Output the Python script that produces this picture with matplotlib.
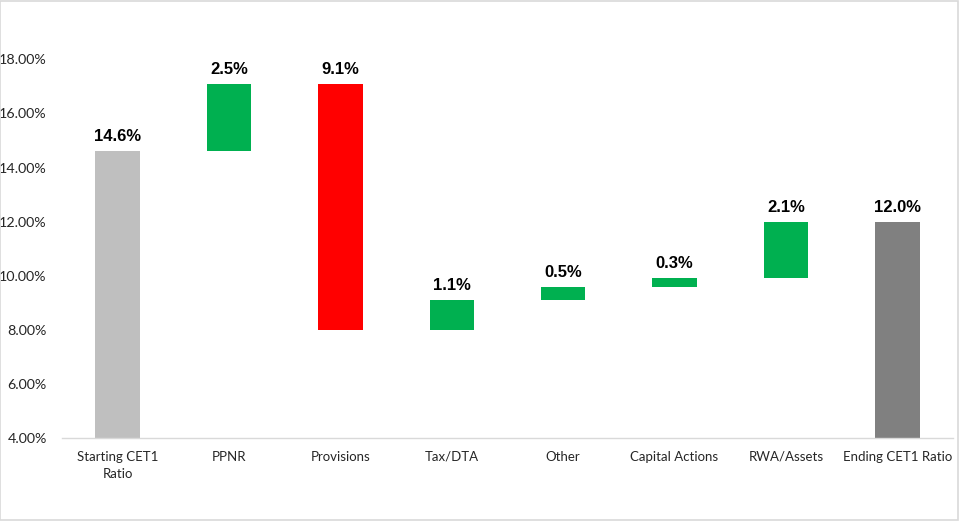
import matplotlib
matplotlib.use("Agg")
import matplotlib.pyplot as plt
from matplotlib.patches import Rectangle
from matplotlib.ticker import FuncFormatter

categories = ["Starting CET1\nRatio", "PPNR", "Provisions", "Tax/DTA", "Other",
              "Capital Actions", "RWA/Assets", "Ending CET1 Ratio"]
changes = [14.6, 2.5, -9.1, 1.1, 0.5, 0.3, 2.1, 12.0]
kinds = ["total", "delta", "delta", "delta", "delta", "delta", "delta", "total"]
labels = ["14.6%", "2.5%", "9.1%", "1.1%", "0.5%", "0.3%", "2.1%", "12.0%"]
colors = ["#BFBFBF", "#00B050", "#FF0000", "#00B050", "#00B050", "#00B050", "#00B050", "#808080"]
yticks = [4, 6, 8, 10, 12, 14, 16, 18]

bottoms, heights = [], []
running = 0.0
for v, k in zip(changes, kinds):
    if k == "total":
        bottoms.append(0.0)
        heights.append(v)
        running = v
    else:
        if v >= 0:
            bottoms.append(running)
            heights.append(v)
        else:
            bottoms.append(running + v)
            heights.append(-v)
        running += v

fig = plt.figure(figsize=(9.59, 5.21), dpi=100)
fig.patch.set_facecolor("white")
fig.add_artist(Rectangle((0.0005, 0.001), 0.998, 0.997, transform=fig.transFigure,
                         fill=False, edgecolor="#D9D9D9", linewidth=1.2))
ax = fig.add_axes([0.0647, 0.1593, 0.929, 0.8307])

x = list(range(len(categories)))
ax.bar(x, heights, bottom=bottoms, width=0.4, color=colors, zorder=2)

for xi, b, h, lab in zip(x, bottoms, heights, labels):
    ax.annotate(lab, (xi, b + h), xytext=(0, 5), textcoords="offset points",
                ha="center", va="bottom", fontsize=12, fontweight="bold",
                family="Liberation Sans", color="black")

ax.set_xlim(-0.5, len(categories) - 0.5)
ax.set_ylim(4, 20)
ax.set_yticks(yticks)
ax.yaxis.set_major_formatter(FuncFormatter(lambda v, p: f"{v:.2f}%"))
ax.set_xticks(x)
ax.set_xticklabels(categories, family="Lato", fontsize=9.5, color="#262626", linespacing=1.5)
for lab in ax.get_yticklabels():
    lab.set_family("Lato")
    lab.set_fontsize(10.3)
    lab.set_color("#262626")
ax.tick_params(axis="both", length=0)
ax.tick_params(axis="y", pad=11)
ax.tick_params(axis="x", pad=9)
for s in ["top", "right", "left"]:
    ax.spines[s].set_visible(False)
ax.spines["bottom"].set_color("#D9D9D9")
ax.spines["bottom"].set_linewidth(1)
ax.spines["bottom"].set_zorder(3)

fig.savefig("out.png", dpi=100)
